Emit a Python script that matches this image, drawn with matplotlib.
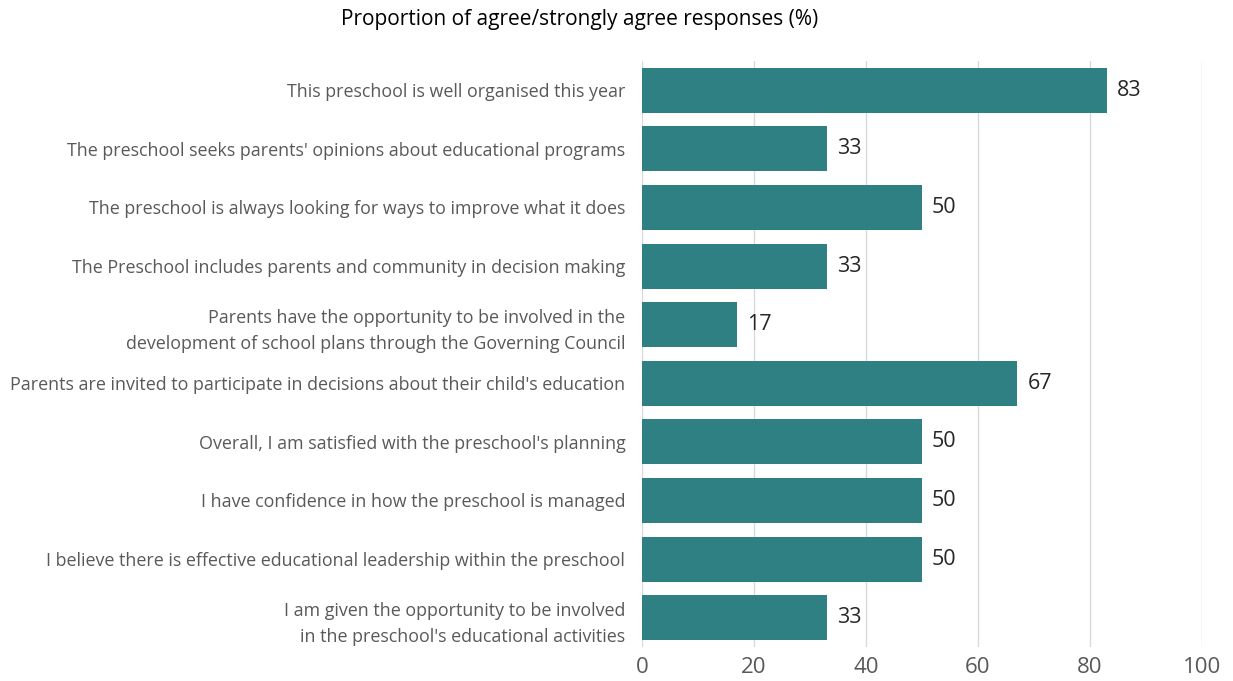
import matplotlib
matplotlib.use("Agg")
import matplotlib.pyplot as plt

plt.rcParams['font.family'] = ['Open Sans', 'DejaVu Sans']

# statements, top to bottom
labels = [
    "This preschool is well organised this year",
    "The preschool seeks parents' opinions about educational programs",
    "The preschool is always looking for ways to improve what it does",
    "The Preschool includes parents and community in decision making",
    "Parents have the opportunity to be involved in the\ndevelopment of school plans through the Governing Council",
    "Parents are invited to participate in decisions about their child's education",
    "Overall, I am satisfied with the preschool's planning",
    "I have confidence in how the preschool is managed",
    "I believe there is effective educational leadership within the preschool",
    "I am given the opportunity to be involved\nin the preschool's educational activities",
]
values = [83, 33, 50, 33, 17, 67, 50, 50, 50, 33]
xticks = [0, 20, 40, 60, 80, 100]

bar_color = "#2f8083"

fig = plt.figure(figsize=(12.33, 6.81), dpi=100)
ax = fig.add_axes([642 / 1233, 1 - 647 / 681, 560 / 1233, 586 / 681])

pos = list(range(len(labels)))
ax.barh(pos, values, height=0.77, color=bar_color, zorder=3)

for p, v in zip(pos, values):
    ax.text(v + 1.8, p, str(v), va='center', ha='left', fontsize=15.5, color="#262626")

ax.set_ylim(len(labels) - 0.5, -0.5)
ax.set_xlim(0, 100)
ax.set_yticks(pos)
ax.set_yticklabels(labels, fontsize=12.9, color="#595959", ha='right', linespacing=1.6)
ax.set_xticks(xticks)
ax.set_xticklabels([str(t) for t in xticks], fontsize=16, color="#595959")
ax.tick_params(axis='y', length=0, pad=12)
ax.tick_params(axis='x', length=0, pad=7)

ax.xaxis.grid(True, color="#d9d9d9", linewidth=1, zorder=0)
for s in ax.spines.values():
    s.set_visible(False)

fig.text(580 / 1233, 1 - 20 / 681, "Proportion of agree/strongly agree responses (%)",
         ha='center', va='center', fontsize=15, color="#000000")

fig.savefig("out.png", dpi=100)
